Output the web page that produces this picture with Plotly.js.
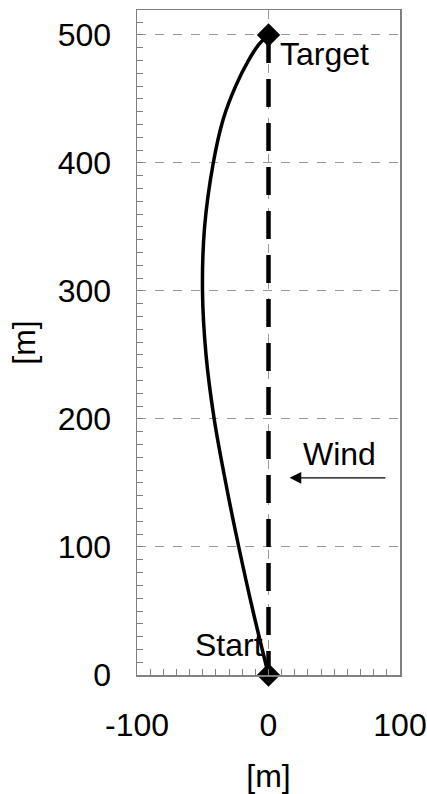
<!DOCTYPE html>
<html>
<head>
<meta charset="utf-8">
<script src="https://cdn.plot.ly/plotly-3.0.1.min.js"></script>
<style>html,body{margin:0;padding:0;background:#fff;}#chart{width:427px;height:794px;}</style>
</head>
<body>
<div id="chart"></div>
<script>
// Flight path (x lateral offset [m], y along-track [m])
const pathY = [0, 50, 100, 150, 200, 250, 300, 350, 400, 434, 460, 480, 493, 500];
const pathX = [0, -11.8, -22.6, -32.5, -41.3, -47.5, -50.2, -48.6, -42, -34.5, -25, -15.3, -7, 0];
// Straight reference line Target -> Start
const lineX = [0, 0];
const lineY = [500, 0];
// End points
const pointX = [0, 0];
const pointY = [0, 500];
const pointLabels = ["Start", "Target"];
// Wind arrow
const windLabel = "Wind";
const windTail = [90, 154];
const windHead = [16, 154];
const windLabelX = 54;
// Tick labels
const xTickVals = [-100, 0, 100];
const xTickText = ["-100", "0", "100"];
const yTickVals = [0, 100, 200, 300, 400, 500];
const yTickText = ["0", "100", "200", "300", "400", "500"];

const font = "Liberation Sans, Arial, sans-serif";
const fs = 32;

const traces = [
  {x: lineX, y: lineY, mode: "lines", line: {color: "#000", width: 4.5, dash: "28px,16px"}, hoverinfo: "skip"},
  {x: pathX, y: pathY, mode: "lines", line: {color: "#000", width: 3.5, shape: "spline", smoothing: 1}, hoverinfo: "skip"},
  {x: pointX, y: pointY, mode: "markers", cliponaxis: false, marker: {symbol: "diamond", size: 18, color: "#000"}, hoverinfo: "skip"}
];

const layout = {
  width: 427, height: 794,
  margin: {l: 137, r: 27, t: 10, b: 119},
  paper_bgcolor: "#fff", plot_bgcolor: "#fff",
  showlegend: false,
  font: {family: font, color: "#000", size: fs},
  xaxis: {
    range: [-100, 100], tickmode: "array", tickvals: xTickVals, ticktext: xTickText,
    showline: true, mirror: true, linecolor: "#808080", linewidth: 1.5,
    ticks: "inside", ticklen: 6, tickcolor: "#808080",
    minor: {dtick: 10, tick0: 0, ticks: "inside", ticklen: 6, tickcolor: "#808080", showgrid: false},
    showgrid: true, gridcolor: "#999", griddash: "dash", gridwidth: 1,
    zeroline: false, ticklabelstandoff: 21,
    tickfont: {size: fs, family: font},
    title: {text: "[m]", font: {size: fs, family: font}, standoff: 22}
  },
  yaxis: {
    range: [0, 519.5], tickmode: "array", tickvals: yTickVals, ticktext: yTickText,
    showline: true, mirror: true, linecolor: "#808080", linewidth: 1.5,
    ticks: "inside", ticklen: 6, tickcolor: "#808080",
    minor: {dtick: 10, tick0: 0, ticks: "inside", ticklen: 6, tickcolor: "#808080", showgrid: false},
    showgrid: true, gridcolor: "#999", griddash: "dash", gridwidth: 1,
    zeroline: false, ticklabelstandoff: 18,
    tickfont: {size: fs, family: font},
    title: {text: "[m]", font: {size: fs, family: font}, standoff: 12}
  },
  annotations: [
    {x: pointX[1], y: pointY[1], text: pointLabels[1], showarrow: false, xanchor: "left", yanchor: "top", xshift: 9, yshift: 1, font: {size: fs, family: font}},
    {x: pointX[0], y: pointY[0], text: pointLabels[0], showarrow: false, xanchor: "right", yanchor: "bottom", xshift: -4, yshift: 10, font: {size: fs, family: font}},
    {x: windHead[0], y: windHead[1], ax: windTail[0], ay: windTail[1], axref: "x", ayref: "y", xref: "x", yref: "y",
     text: "", showarrow: true, arrowhead: 2, arrowsize: 1.8, arrowwidth: 1.3, arrowcolor: "#000"},
    {x: windLabelX, y: windTail[1], text: windLabel, showarrow: false, xanchor: "center", yanchor: "bottom", yshift: 4, font: {size: fs, family: font}}
  ]
};

Plotly.newPlot("chart", traces, layout, {displayModeBar: false, staticPlot: true});
</script>
</body>
</html>
